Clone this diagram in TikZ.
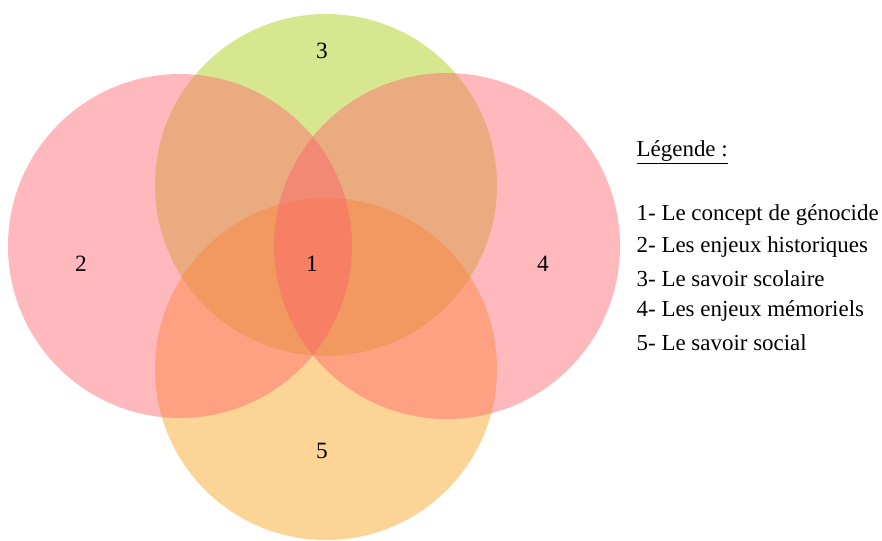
\documentclass[tikz,border=0pt]{standalone}
\usepackage{fontspec}
\setmainfont{Liberation Serif}
\usepackage{tikz}

\begin{document}
\begin{tikzpicture}[x=0.75pt,y=0.75pt,yscale=-1,xscale=1]
\useasboundingbox (0,0) rectangle (882,540); %set diagram left start at 0, and has height of 540

%Shape: Circle [3]
\draw  [draw opacity=0][fill={rgb, 255:red, 167; green, 202; blue, 7 }  ,fill opacity=0.45 ] (326,185) circle (171) ;
%Shape: Circle [5]
\draw  [draw opacity=0][fill={rgb, 255:red, 249; green, 162; blue, 22 }  ,fill opacity=0.45 ] (326,369) circle (171) ;
%Shape: Circle [2]
\draw  [draw opacity=0][fill={rgb, 255:red, 255; green, 98; blue, 107 }  ,fill opacity=0.45 ] (180,246) circle (172) ;
%Shape: Circle [4]
\draw  [draw opacity=0][fill={rgb, 255:red, 255; green, 98; blue, 107 }  ,fill opacity=0.45 ] (447,246) circle (173) ;

% Text Node
\draw (322,51) node (n3) {\fontsize{17.5}{21}\selectfont 3};
% Text Node
\draw (81,264) node (n2) {\fontsize{17.5}{21}\selectfont 2};
% Text Node
\draw (312,264) node (n1) {\fontsize{17.5}{21}\selectfont 1};
% Text Node
\draw (543,264) node (n4) {\fontsize{17.5}{21}\selectfont 4};
% Text Node
\draw (322,451) node (n5) {\fontsize{17.5}{21}\selectfont 5};

% Text Node
\draw (632,152) node [anchor=west] (leg) {\fontsize{17.2}{21}\selectfont \underline{Légende :}};
% Text Node
\draw (632,215) node [anchor=west] (leg1) {\fontsize{17.2}{21}\selectfont 1- Le concept de génocide};
% Text Node
\draw (632,247) node [anchor=west] (leg2) {\fontsize{17.2}{21}\selectfont 2- Les enjeux historiques};
% Text Node
\draw (632,279) node [anchor=west] (leg3) {\fontsize{17.2}{21}\selectfont 3- Le savoir scolaire};
% Text Node
\draw (632,311) node [anchor=west] (leg4) {\fontsize{17.2}{21}\selectfont 4- Les enjeux mémoriels};
% Text Node
\draw (632,343) node [anchor=west] (leg5) {\fontsize{17.2}{21}\selectfont 5- Le savoir social};

\end{tikzpicture}
\end{document}
